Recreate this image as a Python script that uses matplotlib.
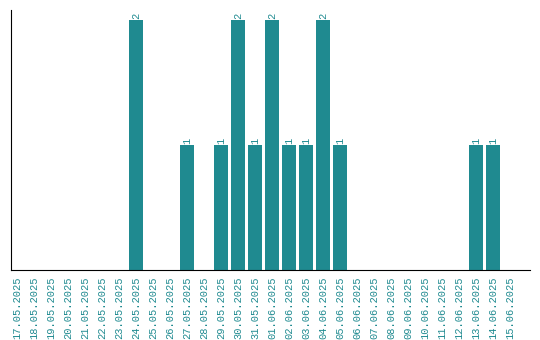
import matplotlib
matplotlib.use('Agg')
import matplotlib.pyplot as plt
import numpy as np

dates = ['17.05.2025', '18.05.2025', '19.05.2025', '20.05.2025', '21.05.2025',
         '22.05.2025', '23.05.2025', '24.05.2025', '25.05.2025', '26.05.2025',
         '27.05.2025', '28.05.2025', '29.05.2025', '30.05.2025', '31.05.2025',
         '01.06.2025', '02.06.2025', '03.06.2025', '04.06.2025', '05.06.2025',
         '06.06.2025', '07.06.2025', '08.06.2025', '09.06.2025', '10.06.2025',
         '11.06.2025', '12.06.2025', '13.06.2025', '14.06.2025', '15.06.2025']
counts = [0, 0, 0, 0, 0, 0, 0, 2, 0, 0,
          1, 0, 1, 2, 1, 2, 1, 1, 2, 1,
          0, 0, 0, 0, 0, 0, 0, 1, 1, 0]

teal = '#1f8a90'
plt.rcParams['font.family'] = ['Liberation Mono', 'DejaVu Sans Mono']

fig = plt.figure(figsize=(5.4, 3.4), dpi=100)
ax = fig.add_axes([11/540, 70/340, 519/540, 260/340])
x = np.arange(len(dates))
bars = ax.bar(x, counts, width=0.82, color=teal)
for xi, c in zip(x, counts):
    if c > 0:
        ax.text(xi, c + 0.01, str(c), rotation=90, ha='center', va='bottom',
                fontsize=7.5, color=teal)
ax.set_xlim(-0.38, 30.15)
ax.set_ylim(0, 2.08)
ax.set_xticks(x)
ax.set_xticklabels(dates, rotation=90, fontsize=7.5, color=teal)
ax.tick_params(axis='x', length=0, pad=5)
ax.set_yticks([])
ax.spines['top'].set_visible(False)
ax.spines['right'].set_visible(False)
plt.savefig('out.png', dpi=100)
